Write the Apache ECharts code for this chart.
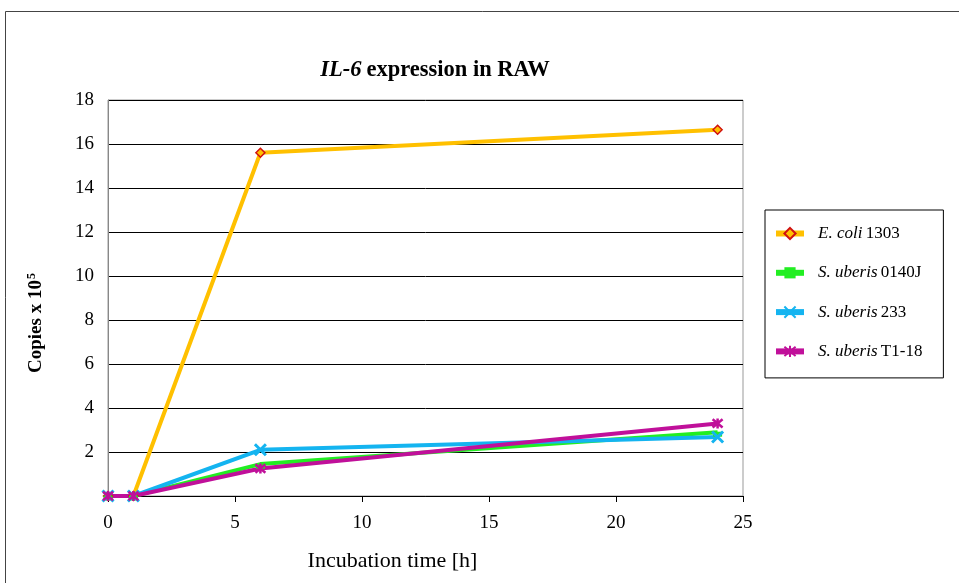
<!DOCTYPE html>
<html>
<head>
<meta charset="utf-8">
<script src="https://cdn.jsdelivr.net/npm/echarts@6/dist/echarts.min.js"></script>
<style>
  html, body { margin: 0; padding: 0; background: #fff; }
  #chart { width: 959px; height: 583px; }
</style>
</head>
<body>
<div id="chart"></div>
<script>
// Incubation times (h) and IL-6 copies (x 10^5) per strain
const hours = [0, 1, 6, 24];
const eColi1303 = [0, 0, 15.6, 16.65];
const sUberis0140J = [0, 0, 1.45, 2.9];
const sUberis233 = [0, 0, 2.1, 2.68];
const sUberisT118 = [0, 0, 1.25, 3.3];
const yTicks = [2, 4, 6, 8, 10, 12, 14, 16, 18];

const FONT = '"Liberation Serif", "DejaVu Serif", serif';

function pairs(ys) { return hours.map((h, i) => [h, ys[i]]); }

const symX = 'path://M0,0L10,10M10,0L0,10';
const symStar = 'path://M0,0L10,10M10,0L0,10M5,-1L5,11';

const chart = echarts.init(document.getElementById('chart'));

function lineSeries(name, ys, color, symbol, size, itemStyle, extra) {
  return Object.assign({
    name: name,
    type: 'line',
    data: pairs(ys),
    symbol: symbol,
    symbolSize: size,
    showAllSymbol: true,
    lineStyle: { color: color, width: 4 },
    itemStyle: Object.assign({ color: color, borderColor: color, borderWidth: 2.5 }, itemStyle || {}),
    emphasis: { disabled: true },
    animation: false
  }, extra || {});
}

chart.setOption({
  animation: false,
  backgroundColor: '#fff',
  title: {
    text: '{i|IL-6} {b|expression in RAW}',
    left: 430,
    textAlign: 'center',
    top: 54,
    textStyle: {
      rich: {
        i: { fontFamily: FONT, fontSize: 22.5, fontWeight: 'bold', fontStyle: 'italic', color: '#000' },
        b: { fontFamily: FONT, fontSize: 22.5, fontWeight: 'bold', color: '#000' }
      }
    }
  },
  grid: {
    left: 108, right: 216, top: 100, bottom: 87,
    show: true, borderColor: '#999', borderWidth: 1, backgroundColor: 'transparent'
  },
  legend: {
    orient: 'vertical',
    left: 765, top: 210,
    padding: [15, 21, 18, 8],
    itemGap: 22.3,
    itemWidth: 28, itemHeight: 14,
    borderColor: '#000', borderWidth: 1,
    lineStyle: { width: 6 },
    data: ['E. coli 1303', 'S. uberis 0140J', 'S. uberis 233', 'S. uberis T1-18'],
    formatter: function (name) {
      const parts = name.split(' ');
      const tail = parts.pop();
      return '{i|' + parts.join(' ') + '} {n|' + tail + '}';
    },
    textStyle: {
      padding: [0, 0, 0, 9],
      rich: {
        i: { fontFamily: FONT, fontSize: 17, fontStyle: 'italic', color: '#000' },
        n: { fontFamily: FONT, fontSize: 17, color: '#000' }
      }
    }
  },
  xAxis: {
    type: 'value',
    min: 0, max: 25, interval: 5,
    name: 'Incubation time [h]',
    nameLocation: 'middle',
    nameGap: 54,
    nameTextStyle: { fontFamily: FONT, fontSize: 22, color: '#000', padding: [0, 66, 0, 0] },
    axisLine: { lineStyle: { color: '#000', width: 1 } },
    axisTick: { show: true, inside: false, length: 6, lineStyle: { color: '#000' } },
    axisLabel: { fontFamily: FONT, fontSize: 19, color: '#000', margin: 18 },
    splitLine: { show: false }
  },
  yAxis: {
    type: 'value',
    min: 0, max: 18, interval: 2,
    name: '{b|Copies x 10}{s|5}',
    nameLocation: 'middle',
    nameRotate: 90,
    nameGap: 61,
    nameTextStyle: {
      padding: [0, 50, 0, 0],
      rich: {
        b: { fontFamily: FONT, fontSize: 19, fontWeight: 'bold', color: '#000' },
        s: { fontFamily: FONT, fontSize: 12, fontWeight: 'bold', color: '#000', verticalAlign: 'top', padding: [0, 0, 9, 1] }
      }
    },
    axisLine: { show: true, lineStyle: { color: '#888', width: 1 } },
    axisTick: { show: false },
    axisLabel: {
      fontFamily: FONT, fontSize: 19, color: '#000', margin: 14,
      formatter: function (v) { return yTicks.indexOf(v) >= 0 ? String(v) : ''; }
    },
    splitLine: { show: true, lineStyle: { color: '#000', width: 1 } }
  },
  graphic: [{
    type: 'rect',
    shape: { x: 5.5, y: 11.5, width: 1000, height: 1000 },
    style: { fill: 'none', stroke: '#444', lineWidth: 1 },
    silent: true
  }],
  series: [
    lineSeries('E. coli 1303', eColi1303, '#FFC000', 'diamond', 9,
      { color: '#FFC000', borderColor: '#D01010', borderWidth: 1.5 }),
    lineSeries('S. uberis 0140J', sUberis0140J, '#22EE22', 'rect', [9, 5], { borderWidth: 0 },
      { symbolOffset: [0, 2] }),
    lineSeries('S. uberis 233', sUberis233, '#14B4F0', symX, 11, { borderWidth: 3 }),
    lineSeries('S. uberis T1-18', sUberisT118, '#C0109A', symStar, 10, { borderWidth: 2.5 })
  ]
});
</script>
</body>
</html>
